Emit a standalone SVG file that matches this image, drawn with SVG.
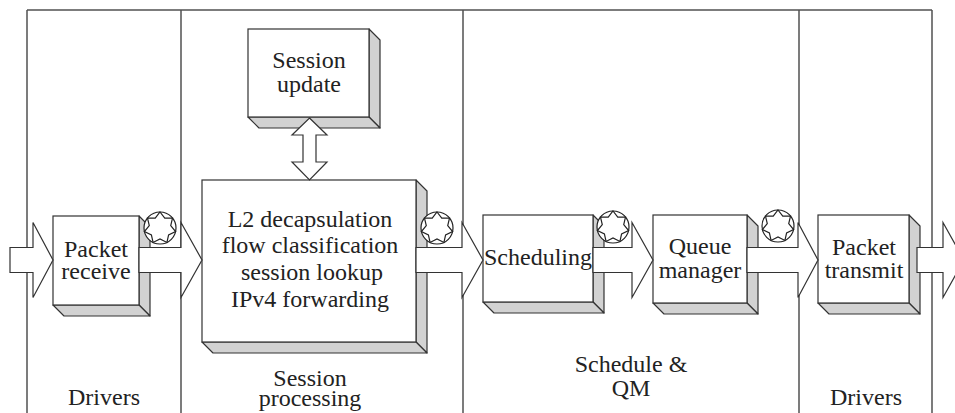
<svg xmlns="http://www.w3.org/2000/svg" xmlns:xlink="http://www.w3.org/1999/xlink" width="955" height="413" viewBox="0 0 955 413">
  <style>
    .frame { fill: none; stroke: #505050; stroke-width: 1.5; }
    .face { fill: #ffffff; stroke: #333333; stroke-width: 1.2; }
    .shade { fill: #d2d2d2; stroke: #333333; stroke-width: 1.2; stroke-linejoin: round; }
    .arrow { fill: #ffffff; stroke: #333333; stroke-width: 1.2; stroke-linejoin: miter; }
    .seal { fill: #ffffff; stroke: #222222; stroke-width: 1.2; }
    text { font-family: "Liberation Serif", "Times New Roman", serif; font-size: 24px; fill: #222222; text-anchor: middle; }
  </style>
  <defs>
    <!-- circled seven-point star marking each stage exit -->
    <g id="sealMark">
      <circle class="seal" cx="0" cy="0" r="16"/>
      <polygon class="seal" fill="none" points="0,-16 4.77,-9.91 12.51,-9.98 10.72,-2.45 15.6,3.56 8.6,6.86 6.94,14.42 0,11 -6.94,14.42 -8.6,6.86 -15.6,3.56 -10.72,-2.45 -12.51,-9.98 -4.77,-9.91"/>
    </g>
  </defs>

  <!-- stage frame -->
  <g id="frame">
    <line class="frame" x1="27" y1="10" x2="932" y2="10"/>
    <line class="frame" x1="27" y1="10" x2="27" y2="413"/>
    <line class="frame" x1="181" y1="10" x2="181" y2="413"/>
    <line class="frame" x1="463" y1="10" x2="463" y2="413"/>
    <line class="frame" x1="799" y1="10" x2="799" y2="413"/>
    <line class="frame" x1="932" y1="10" x2="932" y2="413"/>
  </g>

  <!-- stage labels -->
  <g id="labels">
    <text x="104" y="405">Drivers</text>
    <text x="310" y="386">Session</text>
    <text x="310" y="406">processing</text>
    <text x="631" y="372">Schedule &amp;</text>
    <text x="631" y="396">QM</text>
    <text x="866" y="405">Drivers</text>
  </g>

  <g id="packet-receive">
    <polygon class="shade" points="139,216 150,227 150,316 139,305"/>
    <polygon class="shade" points="53,305 64,316 150,316 139,305"/>
    <rect class="face" x="53" y="216" width="86" height="89"/>
    <text x="96" y="257">Packet</text>
    <text x="96" y="279">receive</text>
  </g>

  <g id="session-update">
    <polygon class="shade" points="369,29 380,40 380,128 369,117"/>
    <polygon class="shade" points="248,117 259,128 380,128 369,117"/>
    <rect class="face" x="248" y="29" width="121" height="88"/>
    <text x="309" y="68">Session</text>
    <text x="309" y="92">update</text>
  </g>

  <g id="session-processing">
    <polygon class="shade" points="416,180 427,191 427,353 416,342"/>
    <polygon class="shade" points="202,342 213,353 427,353 416,342"/>
    <rect class="face" x="202" y="180" width="214" height="162"/>
    <text x="310" y="227">L2 decapsulation</text>
    <text x="310" y="253">flow classification</text>
    <text x="312" y="280">session lookup</text>
    <text x="310" y="307">IPv4 forwarding</text>
  </g>

  <g id="scheduling">
    <polygon class="shade" points="593,215 604,226 604,313 593,302"/>
    <polygon class="shade" points="483,302 494,313 604,313 593,302"/>
    <rect class="face" x="483" y="215" width="110" height="87"/>
    <text x="538" y="265">Scheduling</text>
  </g>

  <g id="queue-manager">
    <polygon class="shade" points="747,215 758,226 758,314 747,303"/>
    <polygon class="shade" points="653,303 664,314 758,314 747,303"/>
    <rect class="face" x="653" y="215" width="94" height="88"/>
    <text x="700" y="254">Queue</text>
    <text x="700" y="278">manager</text>
  </g>

  <g id="packet-transmit">
    <polygon class="shade" points="909,215 920,226 920,314 909,303"/>
    <polygon class="shade" points="818,303 829,314 920,314 909,303"/>
    <rect class="face" x="818" y="215" width="91" height="88"/>
    <text x="864" y="255">Packet</text>
    <text x="864" y="278">transmit</text>
  </g>

  <!-- data-path connectors -->
  <g id="connectors">
    <polygon class="arrow" points="10,247.5 33,247.5 33,222.5 53,260 33,297.5 33,272.5 10,272.5"/>
    <polygon class="arrow" points="139,247.5 181,247.5 181,222.5 202,260 181,297.5 181,272.5 139,272.5"/>
    <polygon class="arrow" points="416,247.5 462,247.5 462,222.5 483,260 462,297.5 462,272.5 416,272.5"/>
    <polygon class="arrow" points="593,247.5 632,247.5 632,222.5 653,260 632,297.5 632,272.5 593,272.5"/>
    <polygon class="arrow" points="747,247.5 798,247.5 798,222.5 818,260 798,297.5 798,272.5 747,272.5"/>
    <polygon class="arrow" points="917,247.5 943,247.5 943,222.5 964,260 943,297.5 943,272.5 917,272.5"/>
    <polygon class="arrow" points="309.5,118 327,135 316,135 316,162 327,162 309.5,180 292,162 303,162 303,135 292,135"/>
  </g>

  <!-- exit seals -->
  <g id="seals">
    <use xlink:href="#sealMark" x="160" y="228"/>
    <use xlink:href="#sealMark" x="437" y="228"/>
    <use xlink:href="#sealMark" x="613" y="227"/>
    <use xlink:href="#sealMark" x="778" y="226"/>
  </g>
</svg>
